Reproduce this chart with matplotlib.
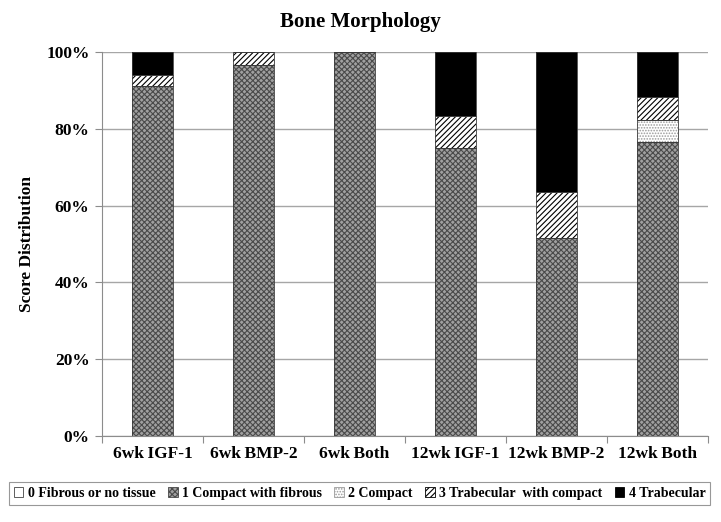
import matplotlib.pyplot as plt
import numpy as np
from matplotlib.patches import Patch

plt.rcParams['font.family'] = ['Liberation Serif', 'DejaVu Serif']
plt.rcParams['hatch.linewidth'] = 0.8

groups = ["6wk IGF-1", "6wk BMP-2", "6wk Both", "12wk IGF-1", "12wk BMP-2", "12wk Both"]
scores = ["0 Fibrous or no tissue", "1 Compact with fibrous", "2 Compact",
          "3 Trabecular  with compact", "4 Trabecular"]
# percent of samples per score, per group
fibrous = [0, 0, 0, 0, 0, 0]
compact_fibrous = [91.2, 96.6, 100, 75.0, 51.5, 76.5]
compact = [0, 0, 0, 0, 0, 5.9]
trab_compact = [2.9, 3.4, 0, 8.3, 12.1, 5.9]
trabecular = [5.9, 0, 0, 16.7, 36.4, 11.8]
series = [fibrous, compact_fibrous, compact, trab_compact, trabecular]

# face color, hatch, hatch color
styles = [
    ("white", None, "#444444"),
    ("#a0a0a0", "xxxxxx", "#4a4a4a"),
    ("white", "......", "#9a9a9a"),
    ("white", "//////", "black"),
    ("black", None, "black"),
]

fig = plt.figure(figsize=(7.21, 5.22), dpi=100)
ax = fig.add_axes([0.1415, 0.1648, 0.8405, 0.7356])

x = np.arange(len(groups))
width = 0.41
bottom = np.zeros(len(groups))
for vals, (fc, hatch, hc) in zip(series, styles):
    vals = np.array(vals, dtype=float)
    ax.bar(x, vals, width, bottom=bottom, color=fc, hatch=hatch,
           edgecolor=hc, linewidth=0, zorder=2)
    ax.bar(x, vals, width, bottom=bottom, fill=False,
           edgecolor="#3a3a3a", linewidth=0.6, zorder=3)
    bottom += vals

ax.set_xlim(-0.5, len(groups) - 0.5)
ax.set_ylim(0, 100)
ax.set_yticks(range(0, 101, 20))
ax.set_yticklabels([f"{v}%" for v in range(0, 101, 20)], fontsize=12.5, fontweight="bold")
ax.yaxis.grid(True, color="#a6a6a6", linewidth=1, zorder=0)
ax.set_axisbelow(True)

ax.set_xticks(np.arange(-0.5, len(groups)), minor=False)
ax.set_xticklabels([])
ax.set_xticks(x, minor=True)
ax.set_xticklabels([g.replace(" ", "\u2009") for g in groups], minor=True,
                   fontsize=12.5, fontweight="bold")
ax.tick_params(axis="x", which="minor", length=0, pad=7)
ax.tick_params(axis="x", which="major", length=5, color="#8c8c8c")
ax.tick_params(axis="y", length=5, color="#8c8c8c", pad=4)

for side in ["top", "right"]:
    ax.spines[side].set_visible(False)
for side in ["left", "bottom"]:
    ax.spines[side].set_color("#8c8c8c")

ax.set_ylabel("Score Distribution", fontsize=12.5, fontweight="bold", labelpad=8)
fig.text(0.5, 0.957, "Bone Morphology", ha="center", va="center",
         fontsize=15, fontweight="bold")

handles = [Patch(facecolor=fc, hatch=hatch, edgecolor=hc, linewidth=0.6)
           for fc, hatch, hc in styles]
handles[0] = Patch(facecolor="white", edgecolor="#444444", linewidth=0.6)
leg = fig.legend(handles, scores, loc="center", bbox_to_anchor=(0.4986, 0.0545),
                 ncol=5, prop={"size": 10, "weight": "bold"}, frameon=True,
                 fancybox=False, handlelength=0.7, handleheight=0.7,
                 handletextpad=0.3, columnspacing=0.9, borderpad=0.35)
leg.get_frame().set_edgecolor("#7f7f7f")
leg.get_frame().set_linewidth(0.8)

fig.savefig("out.png", dpi=100)
